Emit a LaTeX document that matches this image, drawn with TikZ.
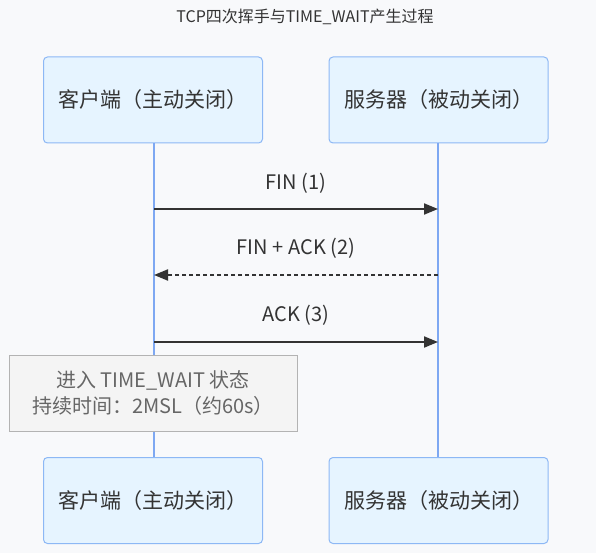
\documentclass[tikz,border=0pt]{standalone}
\usepackage{fontspec}
\setmainfont{Noto Sans CJK SC}
\usetikzlibrary{arrows.meta}
\definecolor{bg}{HTML}{F8F9FB}
\definecolor{actfill}{HTML}{E6F4FF}
\definecolor{actline}{HTML}{8DB8F5}
\definecolor{life}{HTML}{7EA8F2}
\definecolor{msg}{HTML}{333333}
\definecolor{notefill}{HTML}{F4F4F4}
\definecolor{noteline}{HTML}{B3B3B3}
\definecolor{notetext}{HTML}{666666}
\tikzset{
  actor/.style={draw=actline, fill=actfill, line width=1pt, rounded corners=4pt, minimum width=219pt, minimum height=86pt, inner sep=0pt, font=\fontsize{21}{25}\selectfont, text=msg},
  lifeline/.style={draw=life, line width=2pt},
  msgline/.style={draw=msg, line width=2pt, -{Triangle[length=14pt,width=11pt]}},
  msgdash/.style={msgline, dash pattern=on 4pt off 3pt},
  msglabel/.style={font=\fontsize{20}{24}\selectfont, text=msg},
  notebox/.style={draw=noteline, fill=notefill, line width=1pt, minimum width=288pt, minimum height=76pt, inner sep=0pt, align=center, font=\fontsize{20}{26}\selectfont, text=notetext},
  titletext/.style={font=\fontsize{16}{19}\selectfont, text=msg, inner sep=0pt}
}
\begin{document}
\begin{tikzpicture}[x=1pt,y=-1pt]
\fill[bg] (0,0) rectangle (596,553);
\useasboundingbox (0,0) rectangle (596,553);
\node[titletext] (title) at (305,17) {TCP四次挥手与TIME\_WAIT产生过程};
\node[actor] (ct) at (153,100) {客户端（主动关闭）};
\node[actor] (st) at (438.5,100) {服务器（被动关闭）};
\node[actor] (cb) at (153,500.5) {客户端（主动关闭）};
\node[actor] (sb) at (438.5,500.5) {服务器（被动关闭）};
\draw[lifeline] (ct.south -| 154,0) -- (cb.north -| 154,0);
\draw[lifeline] (st.south -| 438,0) -- (sb.north -| 438,0);
\coordinate (c1) at (154,209); \coordinate (s1) at (438,209);
\coordinate (c2) at (154,275); \coordinate (s2) at (438,275);
\coordinate (c3) at (154,342); \coordinate (s3) at (438,342);
\draw[msgline] (c1) -- (s1);
\draw[msgdash] (s2) -- (c2);
\draw[msgline] (c3) -- (s3);
\node[msglabel] (l1) at (296,183) {FIN (1)};
\node[msglabel] (l2) at (296,248) {FIN + ACK (2)};
\node[msglabel] (l3) at (296,315) {ACK (3)};
\node[notebox] (note) at (153,393) {进入 TIME\_WAIT 状态\\持续时间：2MSL（约60s）};
\end{tikzpicture}
\end{document}
